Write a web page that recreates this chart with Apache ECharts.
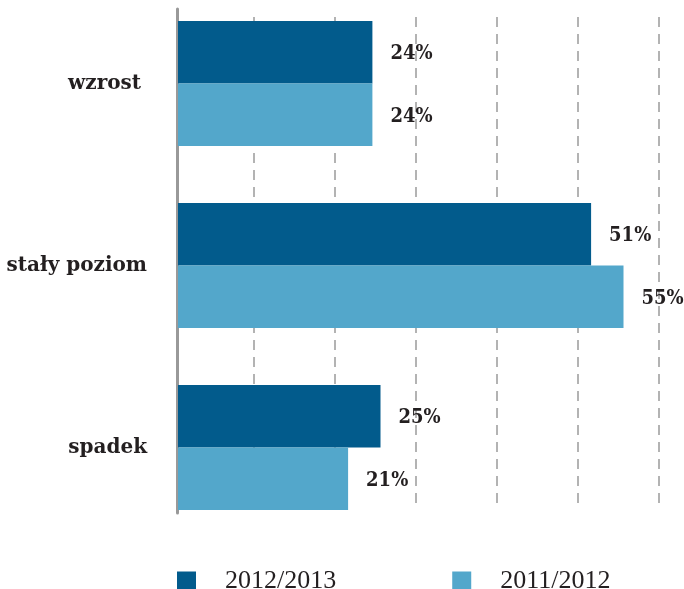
<!DOCTYPE html>
<html>
<head>
<meta charset="utf-8">
<script src="https://cdn.jsdelivr.net/npm/echarts@6/dist/echarts.min.js"></script>
<style>
  html, body { margin: 0; padding: 0; background: #ffffff; }
  #chart { width: 684px; height: 589px; }
</style>
</head>
<body>
<div id="chart"></div>
<script>
// Categories (top to bottom) and the share of answers per school year, in %
const categories = ['wzrost', 'stały poziom', 'spadek'];
const season2012_2013 = [24, 51, 25];
const season2011_2012 = [24, 55, 21];
const seriesNames = ['2012/2013', '2011/2012'];

const DARK = '#025b8c';
const LIGHT = '#53a7cb';
const TEXT = '#231f20';

const valueLabel = {
  show: true,
  position: 'right',
  distance: 18,
  offset: [0, 2],
  formatter: '{c}%',
  fontFamily: '"DejaVu Serif Condensed", "DejaVu Serif"',
  fontWeight: 'bold',
  fontSize: 20,
  color: TEXT
};

const hiddenValueAxis = {
  type: 'value',
  axisLine: { show: false }, axisTick: { show: false }, axisLabel: { show: false },
  splitLine: { show: false }
};

const chart = echarts.init(document.getElementById('chart'), null, { renderer: 'canvas' });

chart.setOption({
  animation: false,
  backgroundColor: '#ffffff',
  legend: {
    data: seriesNames,
    icon: 'rect',
    itemWidth: 19,
    itemHeight: 19,
    itemGap: 116,
    left: 172,
    top: 563,
    textStyle: {
      fontFamily: 'Liberation Serif',
      fontSize: 26,
      color: TEXT,
      padding: [0, 0, 0, 24]
    }
  },
  grid: [
    // dashed vertical guides
    { left: 253.3, width: 405.5, top: 17, height: 493, containLabel: false, outerBoundsMode: 'none' },
    // left axis line
    { left: 177, width: 486, top: 9, height: 504, containLabel: false, outerBoundsMode: 'none' },
    // bars
    { left: 178, width: 486, top: -7.5, height: 546, containLabel: false, outerBoundsMode: 'none' }
  ],
  xAxis: [
    {
      gridIndex: 0, type: 'value', min: 10, max: 60, interval: 10,
      axisLine: { show: false }, axisTick: { show: false }, axisLabel: { show: false },
      splitLine: { show: true, lineStyle: { color: '#9a9a9a', width: 1.5, type: [10, 7] } }
    },
    Object.assign({ gridIndex: 1, min: 0, max: 60 }, hiddenValueAxis),
    Object.assign({ gridIndex: 2, min: 0, max: 60 }, hiddenValueAxis)
  ],
  yAxis: [
    {
      gridIndex: 0, type: 'category', data: categories, inverse: true,
      axisLine: { show: false }, axisTick: { show: false }, axisLabel: { show: false },
      splitLine: { show: false }
    },
    {
      gridIndex: 1, type: 'category', data: categories, inverse: true,
      axisLine: { show: true, lineStyle: { color: '#999999', width: 3 } },
      axisTick: { show: false }, axisLabel: { show: false }, splitLine: { show: false }
    },
    {
      gridIndex: 2, type: 'category', data: categories, inverse: true,
      axisLine: { show: false }, axisTick: { show: false }, splitLine: { show: false },
      axisLabel: {
        margin: 31,
        fontFamily: 'DejaVu Serif',
        fontWeight: 'bold',
        fontSize: 20,
        color: TEXT,
        formatter: (v) => (v === 'wzrost' ? '{w|' + v + '}' : v),
        rich: {
          w: {
            fontFamily: 'DejaVu Serif',
            fontWeight: 'bold',
            fontSize: 20,
            color: TEXT,
            padding: [0, 6, 0, 0]
          }
        }
      }
    }
  ],
  series: [
    {
      name: seriesNames[0], type: 'bar', xAxisIndex: 2, yAxisIndex: 2,
      data: season2012_2013, barWidth: 62.5, barGap: '0%',
      itemStyle: { color: DARK }, label: valueLabel
    },
    {
      name: seriesNames[1], type: 'bar', xAxisIndex: 2, yAxisIndex: 2,
      data: season2011_2012, barWidth: 62.5, barGap: '0%',
      itemStyle: { color: LIGHT }, label: valueLabel
    }
  ]
});
</script>
</body>
</html>
